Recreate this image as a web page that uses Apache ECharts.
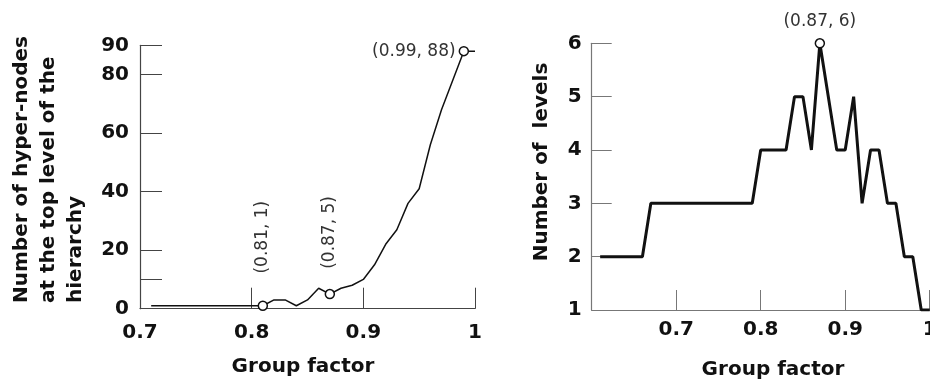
<!DOCTYPE html>
<html>
<head>
<meta charset="utf-8">
<script src="https://cdn.jsdelivr.net/npm/echarts@6/dist/echarts.min.js"></script>
<style>
  html, body { margin: 0; padding: 0; background: #fff; }
  #chart { width: 930px; height: 379px; }
</style>
</head>
<body>
<div id="chart"></div>
<script>
// left: hyper-nodes at top level vs group factor
const leftX = [0.71, 0.81, 0.82, 0.83, 0.84, 0.85, 0.86, 0.87, 0.88, 0.89, 0.90, 0.91, 0.92, 0.93, 0.94, 0.95, 0.96, 0.97, 0.98, 0.99, 1.0]
const leftY = [1, 1, 3, 3, 1, 3, 7, 5, 7, 8, 10, 15, 22, 27, 36, 41, 56, 68, 78, 88, 88]
const leftMarks = [[0.81, 1], [0.87, 5], [0.99, 88]]
const leftYLabels = [0, 20, 40, 60, 80, 90]
const leftYTicks = [10, 20, 40, 60, 80, 90]
const leftXLabels = [0.7, 0.8, 0.9, 1]
const leftXTicks = [0.8, 0.9, 1]

// right: number of levels vs group factor
const rightX = [0.61, 0.66, 0.67, 0.79, 0.80, 0.83, 0.84, 0.85, 0.86, 0.87, 0.89, 0.90, 0.91, 0.92, 0.93, 0.94, 0.95, 0.96, 0.97, 0.98, 0.99, 1.0]
const rightY = [2, 2, 3, 3, 4, 4, 5, 5, 4, 6, 4, 4, 5, 3, 4, 4, 3, 3, 2, 2, 1, 1]
const rightMarks = [[0.87, 6]]
const rightXLabels = [0.7, 0.8, 0.9, 1]

const FONT = 'DejaVu Sans'
const axisColor = '#444'

function tickLabel() {
  return { fontFamily: FONT, fontWeight: 'bold', fontSize: 20, color: '#111' }
}

function markLabel(p) {
  return '(' + p.value[0] + ', ' + p.value[1] + ')'
}

const chart = echarts.init(document.getElementById('chart'))

chart.setOption({
  animation: false,
  grid: [
    { left: 140, top: 45.3, width: 335, height: 263.4, outerBoundsMode: 'none', containLabel: false },
    { left: 591.7, top: 43.3, width: 338, height: 266.7, outerBoundsMode: 'none', containLabel: false },
  ],
  xAxis: [
    {
      gridIndex: 0,
      type: 'value',
      min: 0.7,
      max: 1,
      axisLine: { lineStyle: { color: axisColor, width: 1.2 } },
      axisTick: { inside: true, length: 21, customValues: leftXTicks, lineStyle: { color: axisColor } },
      axisLabel: { ...tickLabel(), margin: 14, customValues: leftXLabels },
      splitLine: { show: false },
    },
    {
      gridIndex: 1,
      type: 'value',
      min: 0.6,
      max: 1,
      axisLine: { lineStyle: { color: '#777', width: 1.2 } },
      axisTick: { inside: true, length: 20, customValues: rightXLabels, lineStyle: { color: '#777' } },
      axisLabel: { ...tickLabel(), margin: 10, customValues: rightXLabels },
      splitLine: { show: false },
    },
  ],
  yAxis: [
    {
      gridIndex: 0,
      type: 'value',
      min: 0,
      max: 90,
      axisLine: { show: true, lineStyle: { color: axisColor, width: 1.2 } },
      axisTick: { show: true, inside: true, length: 22, customValues: leftYTicks, lineStyle: { color: axisColor } },
      axisLabel: { ...tickLabel(), margin: 11, customValues: leftYLabels },
      splitLine: { show: false },
    },
    {
      gridIndex: 1,
      type: 'value',
      min: 1,
      max: 6,
      interval: 1,
      axisLine: { show: true, lineStyle: { color: '#777', width: 1.2 } },
      axisTick: { show: true, inside: true, length: 20, lineStyle: { color: '#777' } },
      axisLabel: { ...tickLabel(), margin: 10 },
      splitLine: { show: false },
    },
  ],
  series: [
    {
      type: 'line',
      xAxisIndex: 0,
      yAxisIndex: 0,
      data: leftX.map((x, i) => [x, leftY[i]]),
      showSymbol: false,
      lineStyle: { color: '#111', width: 1.5 },
    },
    {
      type: 'scatter',
      xAxisIndex: 0,
      yAxisIndex: 0,
      z: 5,
      symbol: 'circle',
      symbolSize: 9,
      itemStyle: { color: '#fff', borderColor: '#111', borderWidth: 1.5, opacity: 1 },
      data: [
        {
          value: leftMarks[0],
          label: { show: true, position: 'top', rotate: 90, align: 'left', verticalAlign: 'middle', distance: 27 },
        },
        {
          value: leftMarks[1],
          label: { show: true, position: 'top', rotate: 90, align: 'left', verticalAlign: 'middle', distance: 20 },
        },
        {
          value: leftMarks[2],
          label: { show: true, position: 'left', distance: 3 },
        },
      ],
      label: { formatter: markLabel, fontFamily: FONT, fontSize: 17, color: '#333' },
    },
    {
      type: 'line',
      xAxisIndex: 1,
      yAxisIndex: 1,
      data: rightX.map((x, i) => [x, rightY[i]]),
      showSymbol: false,
      lineStyle: { color: '#111', width: 3 },
    },
    {
      type: 'scatter',
      xAxisIndex: 1,
      yAxisIndex: 1,
      z: 5,
      symbol: 'circle',
      symbolSize: 9,
      itemStyle: { color: '#fff', borderColor: '#111', borderWidth: 1.5, opacity: 1 },
      data: rightMarks.map((m) => ({ value: m })),
      label: { show: true, position: 'top', distance: 8, formatter: markLabel, fontFamily: FONT, fontSize: 17, color: '#333' },
    },
  ],
  graphic: [
    {
      type: 'text',
      x: 8.5,
      y: 303,
      rotation: Math.PI / 2,
      style: {
        text: 'Number of hyper-nodes\nat the top level of the\nhierarchy',
        font: 'bold 20px "DejaVu Sans"',
        fill: '#111',
        align: 'left',
        verticalAlign: 'top',
        lineHeight: 27,
      },
    },
    {
      type: 'text',
      x: 541.7,
      y: 162,
      rotation: Math.PI / 2,
      style: {
        text: 'Number of  levels',
        font: 'bold 20px "DejaVu Sans"',
        fill: '#111',
        align: 'center',
        verticalAlign: 'middle',
      },
    },
    {
      type: 'text',
      x: 303,
      y: 367,
      style: {
        text: 'Group factor',
        font: 'bold 20px "DejaVu Sans"',
        fill: '#111',
        align: 'center',
        verticalAlign: 'middle',
      },
    },
    {
      type: 'text',
      x: 773,
      y: 370,
      style: {
        text: 'Group factor',
        font: 'bold 20px "DejaVu Sans"',
        fill: '#111',
        align: 'center',
        verticalAlign: 'middle',
      },
    },
  ],
})
</script>
</body>
</html>
